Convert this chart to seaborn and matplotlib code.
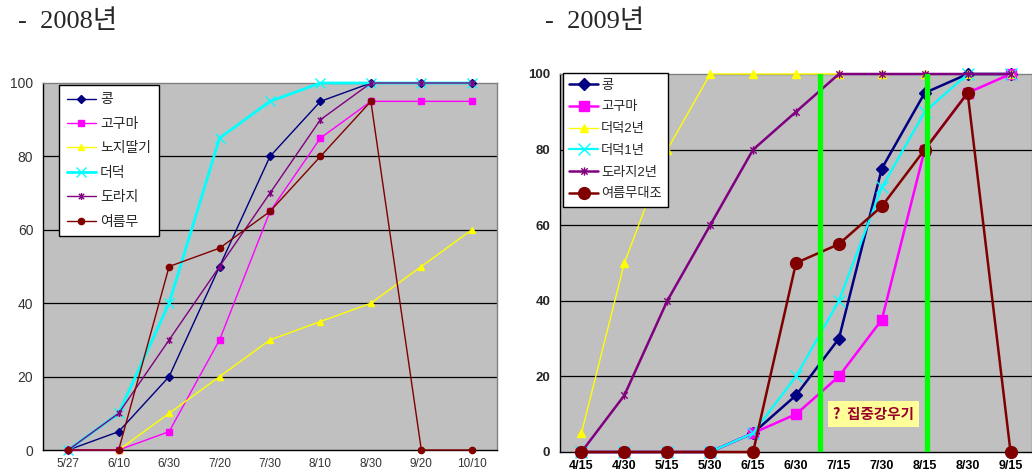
import numpy as np
import pandas as pd
import matplotlib
matplotlib.use("Agg")
import matplotlib.pyplot as plt
from matplotlib.path import Path
import seaborn as sns

# ---- 2008 data ----
dates_2008 = ["5/27", "6/10", "6/30", "7/20", "7/30", "8/10", "8/30", "9/20", "10/10"]
kong_2008 = [0, 5, 20, 50, 80, 95, 100, 100, 100]
goguma_2008 = [0, 0, 5, 30, 65, 85, 95, 95, 95]
ttalgi_2008 = [np.nan, 0, 10, 20, 30, 35, 40, 50, 60]
deodeok_2008 = [0, 10, 40, 85, 95, 100, 100, 100, 100]
doraji_2008 = [0, 10, 30, 50, 70, 90, 100, 100, 100]
mu_2008 = [0, 0, 50, 55, 65, 80, 95, 0, 0]
names_2008 = ["콩", "고구마", "노지딸기", "더덕", "도라지", "여름무"]

# ---- 2009 data ----
dates_2009 = ["4/15", "4/30", "5/15", "5/30", "6/15", "6/30", "7/15", "7/30", "8/15", "8/30", "9/15"]
kong_2009 = [0, 0, 0, 0, 5, 15, 30, 75, 95, 100, 100]
goguma_2009 = [0, 0, 0, 0, 5, 10, 20, 35, 80, 95, 100]
deodeok2_2009 = [5, 50, 80, 100, 100, 100, 100, 100, 100, 100, 100]
deodeok1_2009 = [0, 0, 0, 0, 5, 20, 40, 70, 90, 100, 100]
doraji2_2009 = [0, 15, 40, 60, 80, 90, 100, 100, 100, 100, 100]
mu_2009 = [0, 0, 0, 0, 0, 50, 55, 65, 80, 95, 0]
names_2009 = ["콩", "고구마", "더덕2년", "더덕1년", "도라지2년", "여름무대조"]

# heavy-rain period boundaries (in category units) and its label
rain_bounds = [5.55, 8.05]
rain_label = "?  집중강우기"

# Excel-like "star" marker: an X with a vertical bar
star_marker = Path(
    [(-1, -1), (1, 1), (-1, 1), (1, -1), (0, -1.3), (0, 1.3)],
    [Path.MOVETO, Path.LINETO, Path.MOVETO, Path.LINETO, Path.MOVETO, Path.LINETO],
)

colors = {
    "navy": "#000080", "magenta": "#FF00FF", "yellow": "#FFFF00",
    "cyan": "#00FFFF", "purple": "#800080", "darkred": "#800000",
}

sns.set_style("white")
plt.rcParams["font.family"] = ["Liberation Sans", "Noto Sans CJK KR"]

fig = plt.figure(figsize=(10.32, 4.76), dpi=100)
ax1 = fig.add_axes([43 / 1032, 1 - 450 / 476, 454 / 1032, 367 / 476])
ax2 = fig.add_axes([560 / 1032, 1 - 452 / 476, 472 / 1032, 378 / 476])


def style_axes(ax, labels, bold):
    n = len(labels)
    ax.set_facecolor("#C0C0C0")
    ax.set_xlim(-0.5, n - 0.5)
    ax.set_ylim(0, 100)
    ax.set_yticks([0, 20, 40, 60, 80, 100])
    ax.set_xticks(np.arange(n))
    ax.set_xticks(np.arange(n + 1) - 0.5, minor=True)
    weight = "bold" if bold else "normal"
    ax.set_xticklabels(labels, fontsize=8.5 if not bold else 9, fontweight=weight,
                       color="#333333" if not bold else "black")
    for t in ax.get_yticklabels():
        t.set_fontsize(10 if not bold else 9.5)
        t.set_fontweight(weight)
        if not bold:
            t.set_color("#333333")
    ax.tick_params(axis="x", which="major", length=0, pad=6)
    ax.tick_params(axis="x", which="minor", direction="in", length=4, width=0.8, color="black")
    ax.tick_params(axis="y", which="major", direction="out", length=3, width=0.8, color="black", pad=4)
    for y in [20, 40, 60, 80]:
        ax.axhline(y, color="black", lw=0.9, zorder=1)
    ax.spines["left"].set_color("black")
    ax.spines["bottom"].set_color("black")
    ax.spines["top"].set_color("#808080")
    ax.spines["right"].set_color("#808080")
    for s in ax.spines.values():
        s.set_linewidth(1.0)
    ax.set_xlabel("")
    ax.set_ylabel("")


def draw(ax, labels, series, names, specs):
    x = np.arange(len(labels))
    for vals, name, (col, mk, ms, lw) in zip(series, names, specs):
        df = pd.DataFrame({"x": x, "y": vals}).dropna()
        sns.lineplot(
            data=df, x="x", y="y", ax=ax, color=col, lw=lw, marker=mk,
            markersize=ms, markeredgecolor=col, markerfacecolor=col,
            markeredgewidth=1.0, label=name, clip_on=False, zorder=3,
        )


# 2008 panel
draw(
    ax1, dates_2008,
    [kong_2008, goguma_2008, ttalgi_2008, deodeok_2008, doraji_2008, mu_2008],
    names_2008,
    [
        (colors["navy"], "D", 4, 1.0),
        (colors["magenta"], "s", 4.5, 1.0),
        (colors["yellow"], "^", 5, 1.0),
        (colors["cyan"], "x", 7, 2.0),
        (colors["purple"], star_marker, 5, 1.0),
        (colors["darkred"], "o", 4.5, 1.0),
    ],
)
style_axes(ax1, dates_2008, bold=False)
ax1.legend(
    loc="upper left", bbox_to_anchor=(0.035, 0.995), frameon=True, fancybox=False,
    edgecolor="black", framealpha=1, facecolor="white", fontsize=10,
    labelspacing=0.75, handlelength=2.1, handletextpad=0.3, borderpad=0.55,
    borderaxespad=0,
).get_frame().set_linewidth(1.0)

# 2009 panel
draw(
    ax2, dates_2009,
    [kong_2009, goguma_2009, deodeok2_2009, deodeok1_2009, doraji2_2009, mu_2009],
    names_2009,
    [
        (colors["navy"], "D", 6, 1.8),
        (colors["magenta"], "s", 7.5, 1.8),
        (colors["yellow"], "^", 5.5, 1.0),
        (colors["cyan"], "x", 8, 1.6),
        (colors["purple"], star_marker, 6, 1.8),
        (colors["darkred"], "o", 8.5, 1.8),
    ],
)
style_axes(ax2, dates_2009, bold=True)
ax2.legend(
    loc="upper left", bbox_to_anchor=(0.006, 1.003), frameon=True, fancybox=False,
    edgecolor="black", framealpha=1, facecolor="white", fontsize=9.5,
    labelspacing=0.72, handlelength=2.2, handletextpad=0.2, borderpad=0.5,
    borderaxespad=0,
).get_frame().set_linewidth(1.0)

for xb in rain_bounds:
    ax2.axvline(xb, color="#00FF00", lw=3.8, zorder=4)
mid = (rain_bounds[0] + rain_bounds[1]) / 2
ax2.text(
    mid, 10, rain_label, ha="center", va="center",
    fontsize=10.5, fontweight="bold", color="#99002A", zorder=5,
    family=["Noto Sans CJK KR", "DejaVu Sans"],
    bbox=dict(boxstyle="square,pad=0.35", facecolor="#FFFF99", edgecolor="none"),
)

# panel titles
title_font = ["Liberation Serif", "Noto Sans CJK KR"]
fig.text(18 / 1032, 1 - 21 / 476, "-  2008년", fontsize=19, va="center", ha="left", family=title_font)
fig.text(545 / 1032, 1 - 21 / 476, "-  2009년", fontsize=19, va="center", ha="left", family=title_font)

fig.savefig("out.png", dpi=100, facecolor="white")
